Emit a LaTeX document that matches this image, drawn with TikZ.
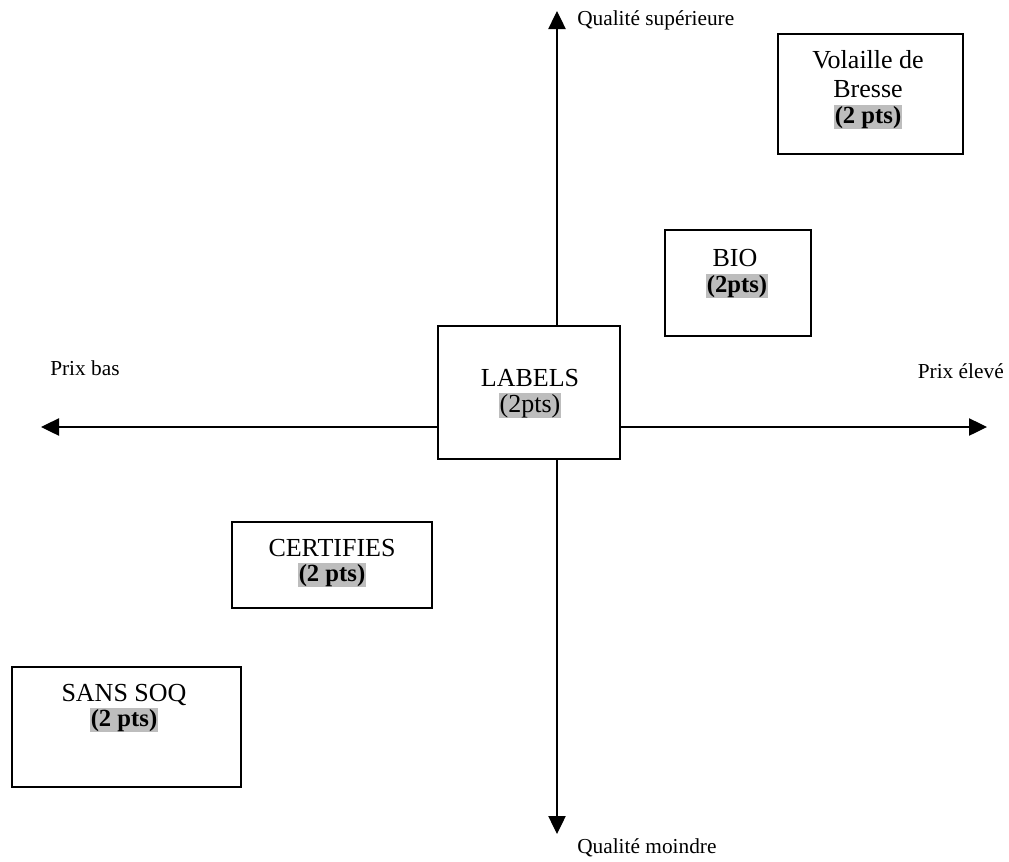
\documentclass[tikz,border=0pt]{standalone}
\usepackage{fontspec}
\setmainfont{Liberation Serif}
\usetikzlibrary{arrows.meta}
\definecolor{hlgray}{gray}{0.74}
\newcommand{\hlt}[1]{{\setlength{\fboxsep}{0.4pt}\colorbox{hlgray}{#1}}}
\begin{document}
\begin{tikzpicture}[x=0.75pt,y=-0.75pt,
  every node/.style={font=\fontsize{16}{19.5}\selectfont},
  box/.style={draw,line width=0.9pt,fill=white,inner sep=0pt},
  big/.style={inner sep=0pt,anchor=base,font=\fontsize{19.5}{22}\selectfont},
  pts/.style={inner sep=0pt,anchor=base,font=\fontsize{18.5}{22}\selectfont\bfseries},
  axis/.style={line width=0.9pt,-{Triangle[length=13.5pt,width=13pt]}},
  lbl/.style={inner sep=0pt}]
\useasboundingbox (0,0) rectangle (1009,861);
% axes
\coordinate (C) at (557,427);
\coordinate (T) at (557,11);
\coordinate (B) at (557,834);
\coordinate (L) at (41,427);
\coordinate (R) at (987,427);
\draw[axis] (C) -- (T);
\draw[axis] (C) -- (B);
\draw[axis] (C) -- (L);
\draw[axis] (C) -- (R);
% axis labels
\node[lbl,anchor=west] (qs) at (577,20) {Qualité supérieure};
\node[lbl,anchor=west] (qm) at (577,848) {Qualité moindre};
\node[lbl,anchor=west] (pb) at (50,368) {Prix bas};
\node[lbl,anchor=east] (pe) at (1004,371) {Prix élevé};
% boxes
\node[box,minimum width=182*0.75pt,minimum height=133*0.75pt] (labels) at (529,392.5) {};
\node[big] (labelsA) at (530,386) {LABELS};
\node[big] (labelsB) at (530,412) {\hlt{(2pts)}};
\node[box,minimum width=185*0.75pt,minimum height=120*0.75pt] (volaille) at (870.5,94) {};
\node[big] (volA) at (868,68) {Volaille de};
\node[big] (volB) at (868,97) {Bresse};
\node[pts] (volC) at (868,123) {\hlt{(2 pts)}};
\node[box,minimum width=146*0.75pt,minimum height=106*0.75pt] (bio) at (738,283) {};
\node[big] (bioA) at (735,266) {BIO};
\node[pts] (bioB) at (737,292) {\hlt{(2pts)}};
\node[box,minimum width=200*0.75pt,minimum height=86*0.75pt] (cert) at (332,565) {};
\node[big] (certA) at (332,556) {CERTIFIES};
\node[pts] (certB) at (332,581) {\hlt{(2 pts)}};
\node[box,minimum width=229*0.75pt,minimum height=120*0.75pt] (sans) at (126.5,727) {};
\node[big] (sansA) at (124,701) {SANS SOQ};
\node[pts] (sansB) at (124,726) {\hlt{(2 pts)}};
\end{tikzpicture}
\end{document}
